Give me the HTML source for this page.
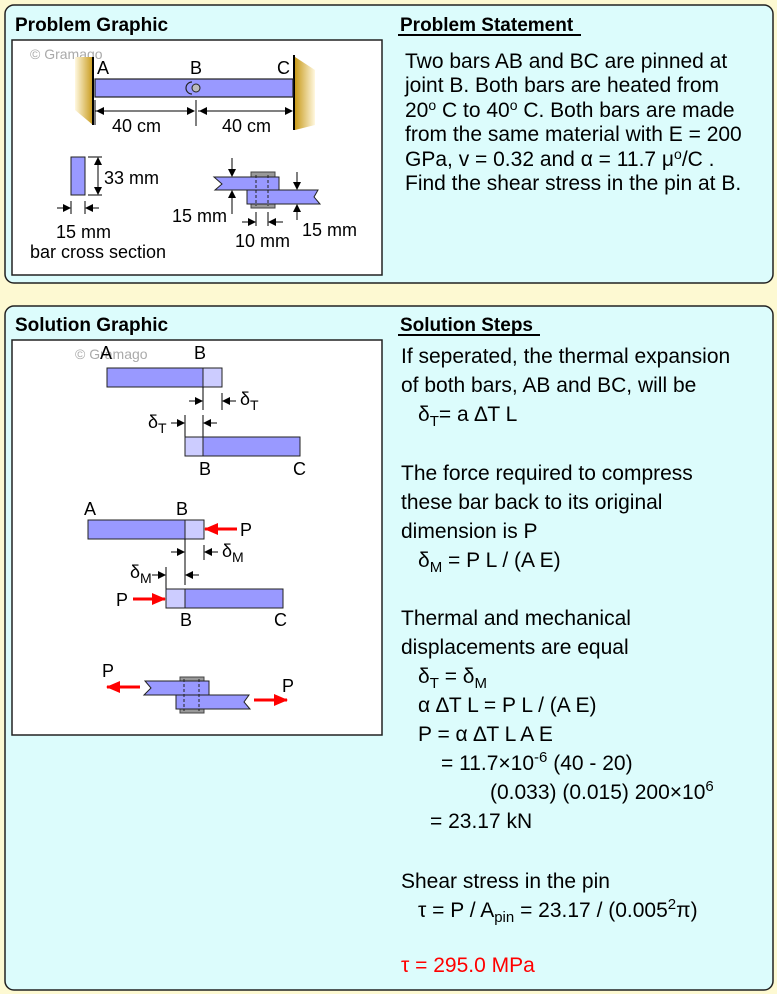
<!DOCTYPE html>
<html><head><meta charset="utf-8"><style>
html,body{margin:0;padding:0;background:#fdf9d2;}
svg{display:block;font-family:"Liberation Sans",Arial,sans-serif;}
</style></head><body>
<svg width="777" height="994" viewBox="0 0 777 994" xmlns="http://www.w3.org/2000/svg">
<defs>
<marker id="ak" markerWidth="8" markerHeight="8" refX="7" refY="4" orient="auto" markerUnits="userSpaceOnUse"><path d="M0,0 L8,4 L0,8 z" fill="#000"/></marker>
<marker id="ar" markerWidth="14" markerHeight="12" refX="13" refY="6" orient="auto" markerUnits="userSpaceOnUse"><path d="M0,0 L14,6 L0,12 z" fill="#f00"/></marker>
<linearGradient id="wl" x1="0" x2="1"><stop offset="0" stop-color="#fff8e0"/><stop offset="1" stop-color="#c89a1a"/></linearGradient>
<linearGradient id="wr" x1="1" x2="0"><stop offset="0" stop-color="#fff8e0"/><stop offset="1" stop-color="#c89a1a"/></linearGradient>
</defs>
<rect width="777" height="994" fill="#fdf9d2"/>
<rect x="5" y="5" width="768" height="278" rx="9" fill="#dcfcfc" stroke="#222" stroke-width="1.5"/>
<rect x="5" y="306" width="768" height="684" rx="9" fill="#dcfcfc" stroke="#222" stroke-width="1.5"/>
<g font-weight="bold" font-size="19">
<text x="15" y="31">Problem Graphic</text>
<text x="400" y="31">Problem Statement</text>
<text x="15" y="331">Solution Graphic</text>
<text x="400" y="331">Solution Steps</text>
</g>
<line x1="398" y1="35" x2="581" y2="35" stroke="#000" stroke-width="2"/>
<line x1="398" y1="335" x2="540" y2="335" stroke="#000" stroke-width="2"/>
<rect x="12" y="40" width="370" height="235" fill="#fff" stroke="#222" stroke-width="1.5"/>
<rect x="12" y="340" width="370" height="395" fill="#fff" stroke="#222" stroke-width="1.5"/>

<!-- problem graphic -->
<g font-size="18">
<text x="30" y="59" fill="#aaa" font-size="14">© Gramago</text>
<path d="M75,57 L93,57 L93,125 L75,110 z" fill="url(#wl)"/>
<line x1="93" y1="57" x2="93" y2="125" stroke="#000" stroke-width="2"/>
<path d="M295,57 L315,70 L315,125 L295,130 z" fill="url(#wr)"/>
<line x1="294" y1="55" x2="294" y2="130" stroke="#000" stroke-width="2"/>
<rect x="95" y="79" width="198" height="18" fill="#9999ff" stroke="#222" stroke-width="1.2"/>
<path d="M192,82 A6,6 0 0 0 192,94" fill="none" stroke="#222" stroke-width="1.2"/>
<circle cx="196" cy="88" r="4" fill="#bbb" stroke="#222"/>
<text x="97" y="74">A</text><text x="190" y="74">B</text><text x="277" y="74">C</text>
<line x1="95" y1="111" x2="194" y2="111" stroke="#000" marker-end="url(#ak)"/>
<line x1="194" y1="111" x2="97" y2="111" stroke="#000" marker-end="url(#ak)"/>
<line x1="198" y1="111" x2="292" y2="111" stroke="#000" marker-end="url(#ak)"/>
<line x1="292" y1="111" x2="200" y2="111" stroke="#000" marker-end="url(#ak)"/>
<line x1="95" y1="100" x2="95" y2="125" stroke="#000"/>
<line x1="196" y1="100" x2="196" y2="126" stroke="#000"/>
<text x="112" y="132">40 cm</text><text x="222" y="132">40 cm</text>
<rect x="71" y="157" width="14" height="38" fill="#9999ff" stroke="#222"/>
<line x1="88" y1="157" x2="102" y2="157" stroke="#000"/>
<line x1="88" y1="195" x2="102" y2="195" stroke="#000"/>
<line x1="98" y1="176" x2="98" y2="158" stroke="#000" marker-end="url(#ak)"/>
<line x1="98" y1="176" x2="98" y2="194" stroke="#000" marker-end="url(#ak)"/>
<text x="104" y="184">33 mm</text>
<line x1="71" y1="201" x2="71" y2="214" stroke="#000"/>
<line x1="85" y1="201" x2="85" y2="214" stroke="#000"/>
<line x1="57" y1="208" x2="70" y2="208" stroke="#000" marker-end="url(#ak)"/>
<line x1="99" y1="208" x2="86" y2="208" stroke="#000" marker-end="url(#ak)"/>
<text x="56" y="238">15 mm</text>
<text x="30" y="258">bar cross section</text>
<!-- lap joint -->
<rect x="251" y="172" width="24" height="36" fill="#999" stroke="#444"/>
<path d="M219,177 L279,177 L279,190 L215,190 L222,184 L214,177 z" fill="#9999ff" stroke="#222"/>
<path d="M247,190 L318,190 L314,197 L320,204 L247,204 z" fill="#9999ff" stroke="#222"/>
<line x1="256" y1="175" x2="256" y2="206" stroke="#222" stroke-dasharray="3,2"/>
<line x1="268" y1="175" x2="268" y2="206" stroke="#222" stroke-dasharray="3,2"/>
<line x1="232" y1="158" x2="232" y2="176" stroke="#000" marker-end="url(#ak)"/>
<line x1="232" y1="214" x2="232" y2="191" stroke="#000" marker-end="url(#ak)"/>
<line x1="297" y1="172" x2="297" y2="189" stroke="#000" marker-end="url(#ak)"/>
<line x1="297" y1="220" x2="297" y2="205" stroke="#000" marker-end="url(#ak)"/>
<line x1="256" y1="212" x2="256" y2="226" stroke="#000"/>
<line x1="268" y1="212" x2="268" y2="226" stroke="#000"/>
<line x1="242" y1="222" x2="255" y2="222" stroke="#000" marker-end="url(#ak)"/>
<line x1="283" y1="222" x2="269" y2="222" stroke="#000" marker-end="url(#ak)"/>
<text x="172" y="222">15 mm</text>
<text x="235" y="247">10 mm</text>
<text x="302" y="236">15 mm</text>
</g>

<!-- solution graphic -->
<g font-size="18">
<text x="75" y="359" fill="#aaa" font-size="14">© Gramago</text>
<rect x="107" y="368" width="96" height="19" fill="#9999ff" stroke="#222"/>
<rect x="203" y="368" width="19" height="19" fill="#ccccff" stroke="#222"/>
<text x="100" y="359">A</text><text x="194" y="359">B</text>
<line x1="203" y1="387" x2="203" y2="410" stroke="#000"/>
<line x1="222" y1="393" x2="222" y2="410" stroke="#000"/>
<line x1="189" y1="401" x2="202" y2="401" stroke="#000" marker-end="url(#ak)"/>
<line x1="236" y1="401" x2="223" y2="401" stroke="#000" marker-end="url(#ak)"/>
<text x="240" y="405">δ<tspan font-size="14" dy="5">T</tspan></text>
<line x1="185" y1="415" x2="185" y2="437" stroke="#000"/>
<line x1="203" y1="415" x2="203" y2="437" stroke="#000"/>
<line x1="171" y1="423" x2="184" y2="423" stroke="#000" marker-end="url(#ak)"/>
<line x1="217" y1="423" x2="204" y2="423" stroke="#000" marker-end="url(#ak)"/>
<text x="148" y="428">δ<tspan font-size="14" dy="5">T</tspan></text>
<rect x="185" y="437" width="18" height="19" fill="#ccccff" stroke="#222"/>
<rect x="203" y="437" width="97" height="19" fill="#9999ff" stroke="#222"/>
<text x="199" y="475">B</text><text x="293" y="475">C</text>

<text x="84" y="515">A</text><text x="176" y="515">B</text>
<rect x="88" y="520" width="97" height="19" fill="#9999ff" stroke="#222"/>
<rect x="185" y="520" width="19" height="19" fill="#ccccff" stroke="#222"/>
<line x1="237" y1="529" x2="205" y2="529" stroke="#f00" stroke-width="3" marker-end="url(#ar)"/>
<text x="240" y="536">P</text>
<line x1="185" y1="539" x2="185" y2="585" stroke="#000"/>
<line x1="204" y1="545" x2="204" y2="560" stroke="#000"/>
<line x1="171" y1="552" x2="184" y2="552" stroke="#000" marker-end="url(#ak)"/>
<line x1="218" y1="552" x2="205" y2="552" stroke="#000" marker-end="url(#ak)"/>
<text x="222" y="557">δ<tspan font-size="14" dy="5">M</tspan></text>
<line x1="166" y1="567" x2="166" y2="589" stroke="#000"/>
<line x1="152" y1="575" x2="165" y2="575" stroke="#000" marker-end="url(#ak)"/>
<line x1="199" y1="575" x2="186" y2="575" stroke="#000" marker-end="url(#ak)"/>
<text x="130" y="578">δ<tspan font-size="14" dy="5">M</tspan></text>
<rect x="166" y="589" width="19" height="19" fill="#ccccff" stroke="#222"/>
<rect x="185" y="589" width="98" height="19" fill="#9999ff" stroke="#222"/>
<line x1="133" y1="599" x2="165" y2="599" stroke="#f00" stroke-width="3" marker-end="url(#ar)"/>
<text x="116" y="606">P</text>
<text x="180" y="626">B</text><text x="274" y="626">C</text>

<rect x="180" y="677" width="24" height="36" fill="#999" stroke="#444"/>
<path d="M147,681 L209,681 L209,695 L144,695 L151,688 L145,681 z" fill="#9999ff" stroke="#222"/>
<path d="M176,695 L249,695 L244,702 L250,709 L176,709 z" fill="#9999ff" stroke="#222"/>
<line x1="184" y1="679" x2="184" y2="711" stroke="#222" stroke-dasharray="3,2"/>
<line x1="199" y1="679" x2="199" y2="711" stroke="#222" stroke-dasharray="3,2"/>
<line x1="140" y1="687" x2="107" y2="687" stroke="#f00" stroke-width="3" marker-end="url(#ar)"/>
<text x="102" y="677">P</text>
<line x1="254" y1="700" x2="287" y2="700" stroke="#f00" stroke-width="3" marker-end="url(#ar)"/>
<text x="282" y="692">P</text>
</g>

<!-- right text -->
<g font-size="21">
<text x="405" y="68">Two bars AB and BC are pinned at</text>
<text x="405" y="92">joint B. Both bars are heated from</text>
<text x="405" y="117">20<tspan font-size="14" dy="-7">o</tspan><tspan dy="7"> C to 40</tspan><tspan font-size="14" dy="-7">o</tspan><tspan dy="7"> C. Both bars are made</tspan></text>
<text x="405" y="141">from the same material with E = 200</text>
<text x="405" y="166">GPa, v = 0.32 and α = 11.7 μ<tspan font-size="14" dy="-7">o</tspan><tspan dy="7">/C .</tspan></text>
<text x="405" y="190">Find the shear stress in the pin at B.</text>

<text x="401" y="363">If seperated, the thermal expansion</text>
<text x="401" y="392">of both bars, AB and BC, will be</text>
<text x="418" y="421">δ<tspan font-size="15" dy="5">T</tspan><tspan dy="-5">= a ∆T L</tspan></text>
<text x="401" y="480">The force required to compress</text>
<text x="401" y="509">these bar back to its original</text>
<text x="401" y="538">dimension is P</text>
<text x="418" y="567">δ<tspan font-size="15" dy="5">M</tspan><tspan dy="-5"> = P L / (A E)</tspan></text>
<text x="401" y="625">Thermal and mechanical</text>
<text x="401" y="654">displacements are equal</text>
<text x="418" y="683">δ<tspan font-size="15" dy="5">T</tspan><tspan dy="-5"> = δ</tspan><tspan font-size="15" dy="5">M</tspan></text>
<text x="418" y="712">α ∆T L = P L / (A E)</text>
<text x="418" y="741">P = α ∆T L A E</text>
<text x="441" y="770">= 11.7×10<tspan font-size="15" dy="-8">-6</tspan><tspan dy="8"> (40 - 20)</tspan></text>
<text x="490" y="799">(0.033) (0.015) 200×10<tspan font-size="15" dy="-8">6</tspan></text>
<text x="430" y="828">= 23.17 kN</text>
<text x="401" y="888">Shear stress in the pin</text>
<text x="418" y="917">τ = P / A<tspan font-size="15" dy="5">pin</tspan><tspan dy="-5"> = 23.17 / (0.005</tspan><tspan font-size="15" dy="-8">2</tspan><tspan dy="8">π)</tspan></text>
<text x="401" y="972" fill="#f00">τ = 295.0 MPa</text>
</g>
</svg>
</body></html>
